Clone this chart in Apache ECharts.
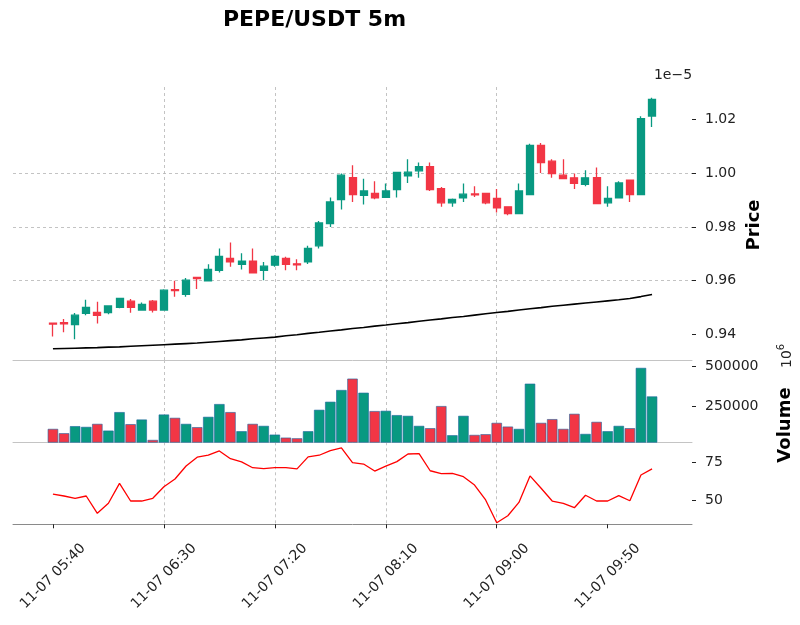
<!DOCTYPE html>
<html><head><meta charset="utf-8">
<script src="https://cdn.jsdelivr.net/npm/echarts@6/dist/echarts.min.js"></script>
<style>html,body{margin:0;padding:0;background:#fff}#c{width:800px;height:625px}</style>
</head><body><div id="c"></div>
<script>
// ---- data (prices in units of 1e-5 USDT) ----
const times = ["11-07 05:40","11-07 05:45","11-07 05:50","11-07 05:55","11-07 06:00","11-07 06:05","11-07 06:10","11-07 06:15","11-07 06:20","11-07 06:25","11-07 06:30","11-07 06:35","11-07 06:40","11-07 06:45","11-07 06:50","11-07 06:55","11-07 07:00","11-07 07:05","11-07 07:10","11-07 07:15","11-07 07:20","11-07 07:25","11-07 07:30","11-07 07:35","11-07 07:40","11-07 07:45","11-07 07:50","11-07 07:55","11-07 08:00","11-07 08:05","11-07 08:10","11-07 08:15","11-07 08:20","11-07 08:25","11-07 08:30","11-07 08:35","11-07 08:40","11-07 08:45","11-07 08:50","11-07 08:55","11-07 09:00","11-07 09:05","11-07 09:10","11-07 09:15","11-07 09:20","11-07 09:25","11-07 09:30","11-07 09:35","11-07 09:40","11-07 09:45","11-07 09:50","11-07 09:55","11-07 10:00","11-07 10:05","11-07 10:10"];
const openP  = [0.9442,0.9444,0.9437,0.9479,0.9482,0.9481,0.9501,0.9524,0.9491,0.9524,0.9491,0.9567,0.9549,0.9612,0.9600,0.9639,0.9683,0.9661,0.9673,0.9639,0.9658,0.9683,0.9663,0.9670,0.9730,0.9813,0.9902,0.9984,0.9918,0.9925,0.9910,0.9939,0.9990,1.0009,1.0025,0.9943,0.9890,0.9908,0.9923,0.9925,0.9906,0.9875,0.9850,0.9921,1.0104,1.0045,0.9993,0.9983,0.9959,0.9984,0.9890,0.9908,0.9974,0.9921,1.0213];
const closeP = [0.9439,0.9440,0.9472,0.9501,0.9471,0.9506,0.9534,0.9501,0.9512,0.9491,0.9565,0.9563,0.9602,0.9608,0.9642,0.9691,0.9670,0.9673,0.9629,0.9654,0.9691,0.9661,0.9659,0.9720,0.9815,0.9893,0.9993,0.9921,0.9934,0.9908,0.9934,1.0003,1.0004,1.0025,0.9939,0.9890,0.9903,0.9922,0.9920,0.9890,0.9871,0.9850,0.9934,1.0104,1.0040,0.9999,0.9980,0.9962,0.9983,0.9887,0.9906,0.9964,0.9921,1.0203,1.0275];
const highP  = [0.9442,0.9458,0.9480,0.9529,0.9522,0.9509,0.9536,0.9532,0.9519,0.9528,0.9568,0.9600,0.9610,0.9615,0.9661,0.9720,0.9742,0.9702,0.9720,0.9670,0.9695,0.9689,0.9680,0.9730,0.9822,0.9910,0.9999,1.0030,0.9980,0.9970,0.9962,1.0005,1.0052,1.0040,1.0040,0.9949,0.9906,0.9962,0.9952,0.9925,0.9941,0.9877,0.9962,1.0110,1.0113,1.0052,1.0052,0.9999,1.0011,1.0021,0.9952,0.9970,0.9974,1.0212,1.0281];
const lowP   = [0.9392,0.9408,0.9382,0.9472,0.9441,0.9475,0.9498,0.9481,0.9491,0.9482,0.9488,0.9540,0.9540,0.9569,0.9600,0.9631,0.9652,0.9642,0.9629,0.9602,0.9652,0.9639,0.9639,0.9662,0.9720,0.9800,0.9865,0.9893,0.9884,0.9903,0.9910,0.9910,0.9964,0.9983,0.9934,0.9875,0.9875,0.9893,0.9912,0.9885,0.9854,0.9844,0.9850,0.9921,1.0001,0.9983,0.9980,0.9941,0.9952,0.9885,0.9875,0.9906,0.9893,0.9921,1.0172];
const maLine = [0.9347,0.9348,0.9349,0.9350,0.9351,0.9353,0.9354,0.9356,0.9358,0.9360,0.9362,0.9364,0.9366,0.9368,0.9371,0.9374,0.9377,0.9380,0.9384,0.9387,0.9390,0.9395,0.9399,0.9404,0.9408,0.9413,0.9417,0.9422,0.9426,0.9431,0.9435,0.9440,0.9444,0.9449,0.9454,0.9458,0.9463,0.9467,0.9472,0.9477,0.9482,0.9486,0.9491,0.9496,0.9500,0.9505,0.9509,0.9513,0.9517,0.9521,0.9525,0.9529,0.9534,0.9541,0.9549];
const volume = [114200,87600,130900,126500,145000,103700,217300,143200,171800,46300,202500,182100,145000,124700,188300,266700,217300,100000,145000,132700,79000,60500,56500,100000,231500,280900,353100,422800,336400,223500,225300,198700,194400,132700,118500,254300,75300,194400,77200,81500,151200,128400,114200,392000,151200,174100,114200,206800,83300,157400,100000,132700,118500,488900,313600];
const rsi = [54.4,53.1,51.6,53.1,41.7,48.3,61.4,49.8,49.8,51.6,59.2,64.3,72.8,78.6,79.9,82.7,77.6,75.5,71.7,71.1,71.7,71.7,70.9,78.8,79.9,82.9,84.7,75.0,74.1,69.5,72.8,75.7,80.7,80.9,69.7,67.8,68.0,65.8,60.3,50.5,35.5,40.1,48.9,66.3,58.2,49.8,48.3,45.4,53.6,49.8,49.8,53.3,50.0,66.9,70.9];
const xTickIdx = [0,10,20,30,40,50];
const priceTicks = [0.94,0.96,0.98,1.00,1.02];
const volTicks = [250000,500000];
const rsiTicks = [50,75];

// ---- chart ----
const UP = '#089981', DOWN = '#f23645';
const FONT = 'DejaVu Sans';
const chart = echarts.init(document.getElementById('c'), null, {renderer:'canvas'});

const candleData = openP.map((o,i)=>[i, o, closeP[i], lowP[i], highP[i]]);
const maData = maLine.map((v,i)=>[i, v]);
const volData = volume.map((v,i)=>({value:[i, v], itemStyle:{color: closeP[i] >= openP[i] ? UP : DOWN}}));
const rsiData = rsi.map((v,i)=>[i, v]);

const gridDash = {color:'#b4b4b4', type:[3,3], width:0.8};
function xAx(gi, bottom){
  return {
    type:'value', gridIndex:gi, min:-3.6, max:57.6, position:'bottom',
    axisLine:{show:true, onZero:false, lineStyle:{color: bottom ? '#8a8a8a' : '#c4c4c4', width:1}},
    axisTick:{show:bottom, customValues:xTickIdx, length:4, lineStyle:{color:'#222'}},
    axisLabel:{show:bottom, customValues:xTickIdx, rotate:45, align:'center', verticalAlign:'middle', margin:52,
      fontFamily:FONT, fontSize:14, color:'#222', formatter:v=>times[Math.round(v)] || ''},
    splitLine:{show:true, lineStyle:gridDash, showMinLine:false, showMaxLine:false}
  };
}
function yAx(gi, min, max, ticks, fmt){
  return {
    type:'value', gridIndex:gi, position:'right', min:min, max:max,
    axisLine:{show:false, onZero:false},
    axisTick:{show:true, customValues:ticks, length:4, lineStyle:{color:'#222'}},
    axisLabel:{customValues:ticks, margin:13, fontFamily:FONT, fontSize:14, color:'#222', formatter:fmt},
    splitLine:{show:true, lineStyle:gridDash, showMinLine:false, showMaxLine:false}
  };
}

chart.setOption({
  animation:false,
  backgroundColor:'#fff',
  grid:[
    {left:13, right:108, top:87, height:273},
    {left:13, right:108, top:360, height:82.3},
    {left:13, right:108, top:442.3, height:82}
  ],
  xAxis:[xAx(0,false), xAx(1,false), xAx(2,true)],
  yAxis:[
    yAx(0, 0.9305, 1.0321, priceTicks, v=>v.toFixed(2)),
    yAx(1, 31330, 536850, volTicks, v=>String(v)),
    yAx(2, 34.5, 88.4, rsiTicks, v=>String(v))
  ],
  series:[
    {type:'candlestick', xAxisIndex:0, yAxisIndex:0, data:candleData, barWidth:7.5,
      itemStyle:{color:UP, color0:DOWN, borderColor:UP, borderColor0:DOWN, borderWidth:1.3}},
    {type:'line', xAxisIndex:0, yAxisIndex:0, data:maData, showSymbol:false, symbol:'none',
      lineStyle:{color:'#000', width:1.6}},
    {type:'bar', xAxisIndex:1, yAxisIndex:1, data:volData, barWidth:10.6,
      itemStyle:{borderColor:'rgba(31,100,160,0.75)', borderWidth:0.8}},
    {type:'line', xAxisIndex:2, yAxisIndex:2, data:rsiData, showSymbol:false, symbol:'none',
      lineStyle:{color:'#ff0000', width:1.3}}
  ],
  graphic:[
    {type:'text', x:314.5, y:20, style:{text:'PEPE/USDT 5m', align:'center', verticalAlign:'middle',
      font:'bold 22px "DejaVu Sans"', fill:'#000'}},
    {type:'text', x:673, y:75, style:{text:'1e\u22125', align:'center', verticalAlign:'middle', font:'14px "DejaVu Sans"', fill:'#222'}},
    {type:'text', x:754, y:225, rotation:Math.PI/2, style:{text:'Price', align:'center', verticalAlign:'middle', font:'bold 18px "DejaVu Sans"', fill:'#000'}},
    {type:'text', x:785, y:425, rotation:Math.PI/2, style:{text:'Volume', align:'center', verticalAlign:'middle', font:'bold 18px "DejaVu Sans"', fill:'#000'}},
    {type:'text', x:787, y:359, rotation:Math.PI/2, style:{text:'10', align:'center', verticalAlign:'middle', font:'14px "DejaVu Sans"', fill:'#222'}},
    {type:'text', x:781, y:347, rotation:Math.PI/2, style:{text:'6', align:'center', verticalAlign:'middle', font:'10px "DejaVu Sans"', fill:'#222'}}
  ]
});
</script></body></html>
